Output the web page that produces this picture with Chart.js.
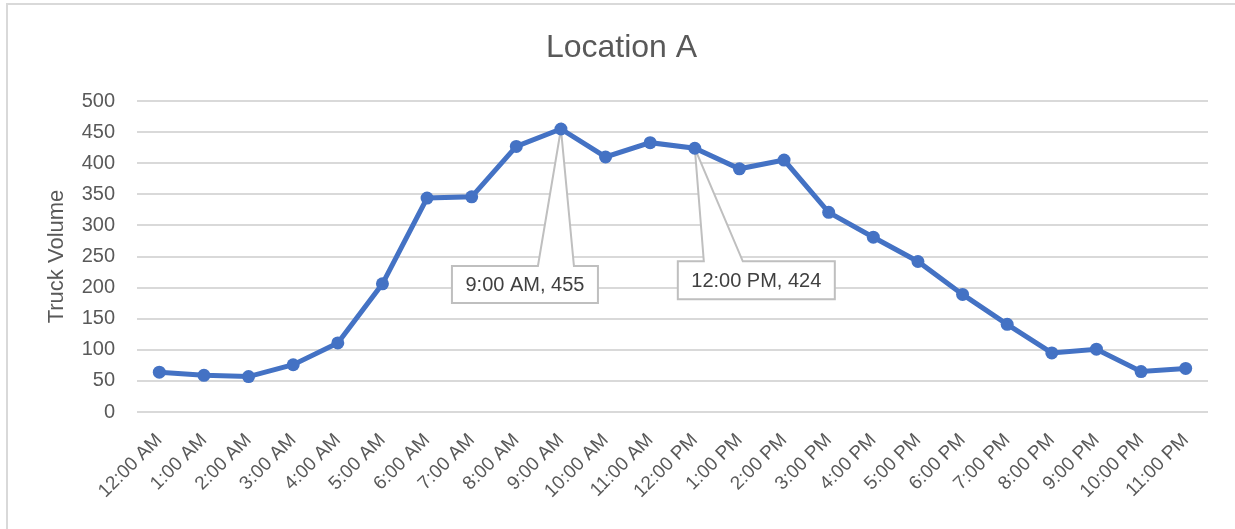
<!DOCTYPE html>
<html>
<head>
<meta charset="utf-8">
<title>Location A</title>
<script src="https://cdn.jsdelivr.net/npm/chart.js@4.4.1/dist/chart.umd.min.js"></script>
<style>
  html, body { margin: 0; padding: 0; background: #ffffff; }
  #wrap { position: relative; width: 1235px; height: 529px; overflow: hidden; }
  #frame {
    position: absolute; left: 6px; top: 3px; right: -10px; bottom: -10px;
    border-left: 2px solid #d9d9d9; border-top: 2px solid #d9d9d9;
    pointer-events: none;
  }
  canvas { position: absolute; left: 0; top: 0; }
</style>
</head>
<body>
<div id="wrap">
  <canvas id="chart" width="1235" height="529"></canvas>
  <div id="frame"></div>
</div>
<script>
// Hourly truck counts at Location A
const hours = [
  '12:00 AM', '1:00 AM', '2:00 AM', '3:00 AM', '4:00 AM', '5:00 AM',
  '6:00 AM', '7:00 AM', '8:00 AM', '9:00 AM', '10:00 AM', '11:00 AM',
  '12:00 PM', '1:00 PM', '2:00 PM', '3:00 PM', '4:00 PM', '5:00 PM',
  '6:00 PM', '7:00 PM', '8:00 PM', '9:00 PM', '10:00 PM', '11:00 PM'
];
const truckVolume = [
  64, 59, 57, 76, 111, 206,
  344, 346, 427, 455, 410, 433,
  424, 391, 405, 321, 281, 242,
  189, 141, 95, 101, 65, 70
];
const yTicks = [0, 50, 100, 150, 200, 250, 300, 350, 400, 450, 500];
// Hours that get a callout label
const calloutHours = ['9:00 AM', '12:00 PM'];
const chartTitle = 'Location A';

const FONT = "'Liberation Sans', Arial, sans-serif";
const TEXT = '#595959';
const GRID = '#d9d9d9';

// Callout box geometry, relative to the labelled point
const calloutStyle = {
  '9:00 AM':  { dx: -109, dy: 137, w: 146, h: 37, wedgeA: -23, wedgeB: 13 },
  '12:00 PM': { dx: -17,  dy: 113, w: 157, h: 38, wedgeA: 9,   wedgeB: 48 }
};

// Title centred on the whole canvas, independent of the plot padding
const titlePlugin = {
  id: 'centredTitle',
  afterDraw(chart) {
    const ctx = chart.ctx;
    ctx.save();
    ctx.fillStyle = TEXT;
    ctx.font = '32px ' + FONT;
    ctx.textAlign = 'center';
    ctx.textBaseline = 'middle';
    ctx.fillText(chartTitle, chart.width / 2 + 4, 48);
    ctx.restore();
  }
};

const calloutPlugin = {
  id: 'callouts',
  beforeDatasetsDraw(chart) {
    const ctx = chart.ctx;
    const meta = chart.getDatasetMeta(0);
    calloutHours.forEach(h => {
      const i = hours.indexOf(h);
      const pt = meta.data[i];
      const s = calloutStyle[h];
      const x0 = pt.x + s.dx, y0 = pt.y + s.dy;
      const x1 = x0 + s.w, y1 = y0 + s.h;
      ctx.save();
      ctx.beginPath();
      ctx.moveTo(x0, y0);
      ctx.lineTo(pt.x + s.wedgeA, y0);
      ctx.lineTo(pt.x, pt.y);
      ctx.lineTo(pt.x + s.wedgeB, y0);
      ctx.lineTo(x1, y0);
      ctx.lineTo(x1, y1);
      ctx.lineTo(x0, y1);
      ctx.closePath();
      ctx.fillStyle = '#ffffff';
      ctx.fill();
      ctx.lineWidth = 2;
      ctx.strokeStyle = '#bfbfbf';
      ctx.lineJoin = 'miter';
      ctx.stroke();
      ctx.fillStyle = '#404040';
      ctx.font = '20px ' + FONT;
      ctx.textAlign = 'center';
      ctx.textBaseline = 'middle';
      ctx.fillText(h + ', ' + truckVolume[i], (x0 + x1) / 2, (y0 + y1) / 2 + 1);
      ctx.restore();
    });
  }
};

new Chart(document.getElementById('chart'), {
  type: 'line',
  data: {
    labels: hours,
    datasets: [{
      label: 'Truck Volume',
      data: truckVolume,
      borderColor: '#4472c4',
      backgroundColor: '#4472c4',
      borderWidth: 5,
      pointRadius: 6.5,
      pointBorderWidth: 0,
      pointBackgroundColor: '#4472c4',
      tension: 0,
      fill: false
    }]
  },
  options: {
    responsive: false,
    animation: false,
    devicePixelRatio: 1,
    layout: { padding: { top: 101, right: 27, bottom: 0, left: 0 } },
    plugins: {
      legend: { display: false },
      tooltip: { enabled: false },
      title: { display: false }
    },
    scales: {
      x: {
        type: 'category',
        offset: true,
        grid: { display: false, drawTicks: false },
        border: { display: false },
        ticks: {
          color: TEXT,
          font: { family: FONT, size: 19 },
          minRotation: 45,
          maxRotation: 45,
          autoSkip: false,
          padding: 17
        },
        afterFit(scale) { scale.height = 117; }
      },
      y: {
        min: 0,
        max: 500,
        afterBuildTicks(scale) { scale.ticks = yTicks.map(v => ({ value: v })); },
        grid: { color: GRID, lineWidth: 2, drawTicks: false },
        border: { display: false },
        ticks: {
          color: TEXT,
          font: { family: FONT, size: 20 },
          padding: 22
        },
        title: {
          display: true,
          text: 'Truck Volume',
          color: TEXT,
          font: { family: FONT, size: 22 },
          padding: { top: 44, bottom: 0 }
        },
        afterFit(scale) { scale.width = 137; }
      }
    }
  },
  plugins: [calloutPlugin, titlePlugin]
});
</script>
</body>
</html>
